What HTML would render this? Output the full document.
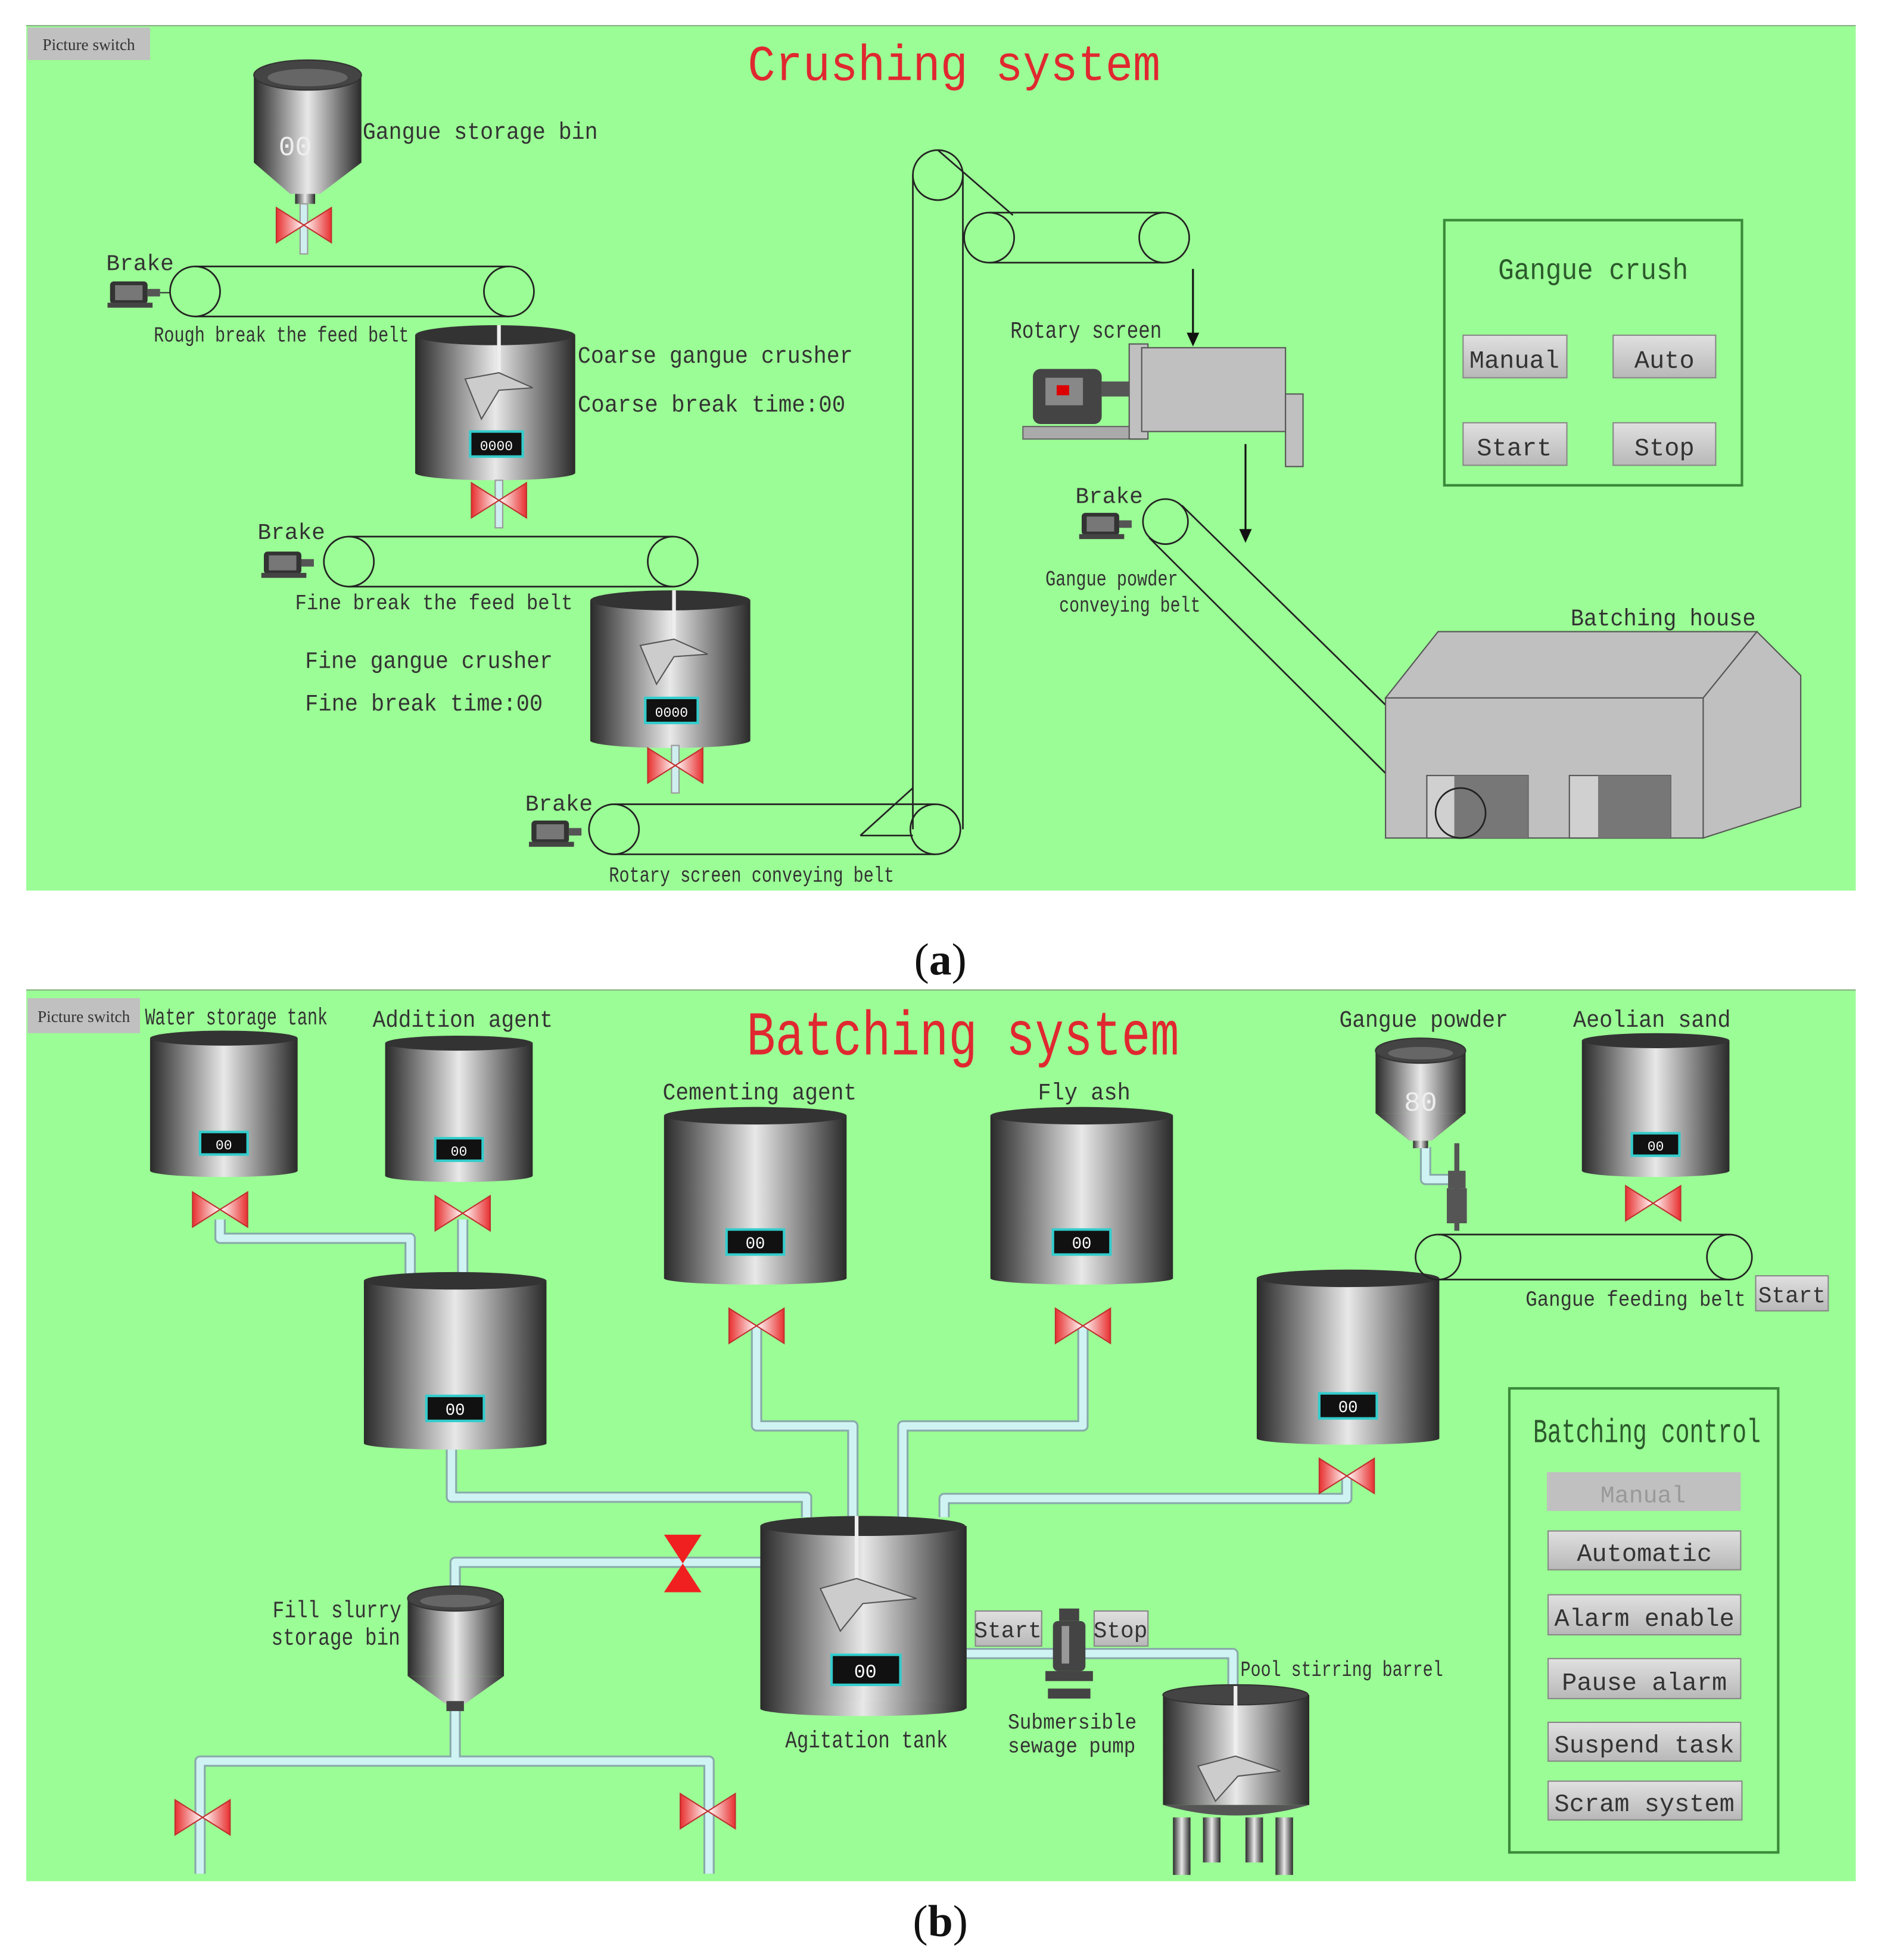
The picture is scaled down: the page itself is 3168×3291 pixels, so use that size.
<!DOCTYPE html>
<html><head><meta charset="utf-8"><style>html,body{margin:0;padding:0;background:#fff}svg{display:block}</style></head><body>
<svg width="3168" height="3291" viewBox="0 0 1509 1567" preserveAspectRatio="none" xmlns="http://www.w3.org/2000/svg" font-family="Liberation Mono, monospace">
<defs>
<linearGradient id="tg" x1="0" x2="1" y1="0" y2="0"><stop offset="0" stop-color="#2a2a2a"/><stop offset="0.5" stop-color="#e8e8e8"/><stop offset="1" stop-color="#2a2a2a"/></linearGradient>
<linearGradient id="tt" x1="0" x2="1"><stop offset="0" stop-color="#555"/><stop offset="0.5" stop-color="#222"/><stop offset="1" stop-color="#666"/></linearGradient>
<linearGradient id="btn" x1="0" x2="0" y1="0" y2="1"><stop offset="0" stop-color="#e0e0e0"/><stop offset="1" stop-color="#b8b8b8"/></linearGradient>
<linearGradient id="vl" x1="0" x2="1"><stop offset="0" stop-color="#e83030"/><stop offset="1" stop-color="#fff"/></linearGradient>
<linearGradient id="vr" x1="1" x2="0"><stop offset="0" stop-color="#e83030"/><stop offset="1" stop-color="#fff"/></linearGradient>
<g id="valve"><polygon points="-22,-14 0,0 -22,14" fill="url(#vl)" stroke="#c03030"/><polygon points="22,-14 0,0 22,14" fill="url(#vr)" stroke="#c03030"/></g>
<g id="motor"><rect x="-20" y="-9" width="30" height="18" fill="#333" rx="3"/><rect x="-16" y="-6" width="22" height="12" fill="#777"/><rect x="10" y="-3" width="10" height="6" fill="#555"/><rect x="-22" y="8" width="36" height="4" fill="#444"/></g>
</defs>
<rect x="0" y="0" width="1509" height="1567" fill="#fff"/>
<rect x="21" y="20" width="1463" height="692" fill="#9bfd95"/>
<rect x="21" y="791" width="1463" height="713" fill="#9bfd95"/>
<line x1="21" y1="20.5" x2="1484" y2="20.5" stroke="#8ab088"/>
<line x1="21" y1="791.5" x2="1484" y2="791.5" stroke="#8ab088"/>
<!-- ============ PANEL A ============ -->
<rect x="22" y="22" width="98" height="26" fill="#c0c0c0"/>
<text x="71" y="40" font-family="Liberation Serif, serif" font-size="13" text-anchor="middle" fill="#333">Picture switch</text>
<text x="598" y="64" font-size="40" fill="#e02830" textLength="330" lengthAdjust="spacingAndGlyphs">Crushing system</text>
<ellipse cx="246" cy="60" rx="43" ry="12" fill="url(#tt)"/>
<rect x="203" y="60" width="86" height="70" fill="url(#tg)"/>
<ellipse cx="246" cy="60" rx="43" ry="12" fill="#444" stroke="#333"/>
<ellipse cx="246" cy="62" rx="32" ry="7" fill="#666"/>
<polygon points="203,130 289,130 256,155 232,155" fill="url(#tg)"/>
<rect x="236" y="155" width="16" height="8" fill="url(#tg)"/>
<text x="236" y="124" font-size="22" fill="#eee" text-anchor="middle">00</text>
<rect x="240" y="163" width="6" height="40" fill="#cfeef0" stroke="#999"/>
<use href="#valve" x="243" y="180"/>
<text x="290" y="111" font-size="19" fill="#333" textLength="188" lengthAdjust="spacingAndGlyphs">Gangue storage bin</text>
<text x="85" y="216" font-size="18" fill="#333">Brake</text>
<use href="#motor" x="108" y="234"/>
<line x1="128" y1="234" x2="136" y2="234" stroke="#333"/>
<g fill="none" stroke="#222" stroke-width="1.3"><circle cx="156" cy="233" r="20"/><circle cx="407" cy="233" r="20"/><line x1="156" y1="213" x2="407" y2="213"/><line x1="156" y1="253" x2="407" y2="253"/></g>
<text x="123" y="273" font-size="17" fill="#333" textLength="204" lengthAdjust="spacingAndGlyphs">Rough break the feed belt</text>
<rect x="332" y="268" width="128" height="110" fill="url(#tg)"/>
<ellipse cx="396" cy="268" rx="64" ry="8" fill="#333"/>
<ellipse cx="396" cy="378" rx="64" ry="6" fill="url(#tg)"/>
<line x1="399" y1="260" x2="399" y2="305" stroke="#eee" stroke-width="3"/>
<polygon points="372,303 399,298 426,310 399,312 385,335" fill="#ccc" stroke="#555"/>
<rect x="376" y="345" width="42" height="20" fill="#111" stroke="#3cc" stroke-width="2"/>
<text x="397" y="360" font-size="11" fill="#fff" text-anchor="middle">0000</text>
<rect x="396" y="384" width="6" height="38" fill="#cfeef0" stroke="#999"/>
<use href="#valve" x="399" y="400"/>
<text x="462" y="290" font-size="19" fill="#333" textLength="220" lengthAdjust="spacingAndGlyphs">Coarse gangue crusher</text>
<text x="462" y="329" font-size="19" fill="#333" textLength="214" lengthAdjust="spacingAndGlyphs">Coarse break time:00</text>
<text x="206" y="431" font-size="18" fill="#333">Brake</text>
<use href="#motor" x="231" y="450"/>
<g fill="none" stroke="#222" stroke-width="1.3"><circle cx="279" cy="449" r="20"/><circle cx="538" cy="449" r="20"/><line x1="279" y1="429" x2="538" y2="429"/><line x1="279" y1="469" x2="538" y2="469"/></g>
<text x="236" y="487" font-size="17" fill="#333" textLength="222" lengthAdjust="spacingAndGlyphs">Fine break the feed belt</text>
<rect x="472" y="480" width="128" height="112" fill="url(#tg)"/>
<ellipse cx="536" cy="480" rx="64" ry="8" fill="#333"/>
<ellipse cx="536" cy="592" rx="64" ry="6" fill="url(#tg)"/>
<line x1="539" y1="472" x2="539" y2="518" stroke="#eee" stroke-width="3"/>
<polygon points="512,516 539,511 566,523 539,525 525,547" fill="#ccc" stroke="#555"/>
<rect x="516" y="558" width="42" height="20" fill="#111" stroke="#3cc" stroke-width="2"/>
<text x="537" y="573" font-size="11" fill="#fff" text-anchor="middle">0000</text>
<rect x="537" y="596" width="6" height="38" fill="#cfeef0" stroke="#999"/>
<use href="#valve" x="540" y="612"/>
<text x="244" y="534" font-size="19" fill="#333" textLength="198" lengthAdjust="spacingAndGlyphs">Fine gangue crusher</text>
<text x="244" y="568" font-size="19" fill="#333" textLength="190" lengthAdjust="spacingAndGlyphs">Fine break time:00</text>
<text x="420" y="648" font-size="18" fill="#333">Brake</text>
<use href="#motor" x="445" y="665"/>
<g fill="none" stroke="#222" stroke-width="1.3">
<circle cx="491" cy="663" r="20"/><circle cx="748" cy="663" r="20"/><line x1="491" y1="643" x2="748" y2="643"/><line x1="491" y1="683" x2="748" y2="683"/>
<line x1="688" y1="668" x2="730" y2="630"/><line x1="688" y1="668" x2="730" y2="668"/>
<circle cx="750" cy="140" r="20"/><line x1="730" y1="140" x2="730" y2="663"/><line x1="770" y1="140" x2="770" y2="663"/>
<line x1="750" y1="120" x2="810" y2="172"/>
<circle cx="791" cy="190" r="20"/><circle cx="931" cy="190" r="20"/><line x1="791" y1="170" x2="931" y2="170"/><line x1="791" y1="210" x2="931" y2="210"/>
</g>
<text x="487" y="705" font-size="17" fill="#333" textLength="228" lengthAdjust="spacingAndGlyphs">Rotary screen conveying belt</text>
<text x="808" y="270" font-size="19" fill="#333" textLength="121" lengthAdjust="spacingAndGlyphs">Rotary screen</text>
<line x1="954" y1="215" x2="954" y2="268" stroke="#111" stroke-width="1.5"/><polygon points="949,266 959,266 954,277" fill="#111"/>
<rect x="818" y="341" width="95" height="10" fill="#aaa" stroke="#666"/>
<rect x="826" y="295" width="55" height="44" rx="6" fill="#444"/>
<rect x="836" y="302" width="30" height="22" fill="#888"/><rect x="845" y="308" width="10" height="8" fill="#d00"/>
<rect x="881" y="305" width="22" height="12" fill="#555"/>
<rect x="903" y="275" width="15" height="76" fill="#c0c0c0" stroke="#555"/>
<rect x="913" y="278" width="115" height="67" fill="#c0c0c0" stroke="#555"/>
<rect x="1028" y="315" width="14" height="58" fill="#c0c0c0" stroke="#555"/>
<line x1="996" y1="355" x2="996" y2="425" stroke="#111" stroke-width="1.5"/><polygon points="991,423 1001,423 996,434" fill="#111"/>
<text x="860" y="402" font-size="18" fill="#333">Brake</text>
<use href="#motor" x="885" y="419"/>
<g fill="none" stroke="#222" stroke-width="1.3"><circle cx="932" cy="417" r="18"/><circle cx="1168" cy="650" r="20"/><line x1="945" y1="404" x2="1182" y2="636"/><line x1="919" y1="430" x2="1154" y2="664"/></g>
<text x="836" y="468" font-size="17" fill="#333" textLength="106" lengthAdjust="spacingAndGlyphs">Gangue powder</text>
<text x="847" y="489" font-size="17" fill="#333" textLength="113" lengthAdjust="spacingAndGlyphs">conveying belt</text>
<text x="1256" y="500" font-size="19" fill="#333" textLength="148" lengthAdjust="spacingAndGlyphs">Batching house</text>
<polygon points="1108,558 1150,505 1405,505 1362,558" fill="#c0c0c0" stroke="#555"/>
<polygon points="1362,558 1405,505 1440,540 1440,645 1362,670" fill="#c0c0c0" stroke="#555"/>
<rect x="1108" y="558" width="254" height="112" fill="#c0c0c0" stroke="#555"/>
<rect x="1141" y="620" width="81" height="50" fill="#d0d0d0" stroke="#555"/><rect x="1163" y="620" width="59" height="50" fill="#777"/>
<rect x="1255" y="620" width="81" height="50" fill="#d0d0d0" stroke="#555"/><rect x="1278" y="620" width="58" height="50" fill="#777"/>
<circle cx="1168" cy="650" r="20" fill="none" stroke="#222" stroke-width="1.3"/>
<rect x="1155" y="176" width="238" height="212" fill="none" stroke="#3a8a3a" stroke-width="2"/>
<text x="1198" y="223" font-size="24" fill="#2c5a2c" textLength="152" lengthAdjust="spacingAndGlyphs">Gangue crush</text>
<g font-size="20" fill="#333" text-anchor="middle">
<rect x="1170" y="268" width="83" height="34" fill="url(#btn)" stroke="#888"/><text x="1211" y="294">Manual</text>
<rect x="1290" y="268" width="82" height="34" fill="url(#btn)" stroke="#888"/><text x="1331" y="294">Auto</text>
<rect x="1170" y="338" width="83" height="34" fill="url(#btn)" stroke="#888"/><text x="1211" y="364">Start</text>
<rect x="1290" y="338" width="82" height="34" fill="url(#btn)" stroke="#888"/><text x="1331" y="364">Stop</text>
</g>
<text x="752" y="779" font-family="Liberation Serif, serif" font-size="36" text-anchor="middle" fill="#111">(<tspan font-weight="bold">a</tspan>)</text>
<!-- ============ PANEL B ============ -->
<g fill="none" stroke-linejoin="round">
<g stroke="#8aa" stroke-width="9">
<path d="M176,975 V990 H328 V1020"/><path d="M370,975 V1020"/><path d="M361,1155 V1197 H645 V1213"/>
<path d="M605,1060 V1140 H682 V1213"/><path d="M866,1060 V1140 H722 V1213"/><path d="M1077,1180 V1198 H755 V1213"/>
<path d="M608,1249 H364 V1268"/><path d="M364,1368 V1408 H160 V1498"/><path d="M364,1408 H567 V1498"/>
<path d="M773,1322 H986 V1348"/><path d="M1140,917 V943 H1160"/>
</g>
<g stroke="#cff3f3" stroke-width="6">
<path d="M176,975 V990 H328 V1020"/><path d="M370,975 V1020"/><path d="M361,1155 V1197 H645 V1213"/>
<path d="M605,1060 V1140 H682 V1213"/><path d="M866,1060 V1140 H722 V1213"/><path d="M1077,1180 V1198 H755 V1213"/>
<path d="M608,1249 H364 V1268"/><path d="M364,1368 V1408 H160 V1498"/><path d="M364,1408 H567 V1498"/>
<path d="M773,1322 H986 V1348"/><path d="M1140,917 V943 H1160"/>
</g>
</g>
<rect x="22" y="798" width="90" height="28" fill="#c0c0c0"/>
<text x="67" y="817" font-family="Liberation Serif, serif" font-size="13" text-anchor="middle" fill="#333">Picture switch</text>
<text x="597" y="843" font-size="50" fill="#e02830" textLength="346" lengthAdjust="spacingAndGlyphs">Batching system</text>
<g font-size="19" fill="#333">
<text x="116" y="819" textLength="146" lengthAdjust="spacingAndGlyphs">Water storage tank</text>
<text x="298" y="821" textLength="144" lengthAdjust="spacingAndGlyphs">Addition agent</text>
<text x="530" y="879" textLength="155" lengthAdjust="spacingAndGlyphs">Cementing agent</text>
<text x="830" y="879" textLength="74" lengthAdjust="spacingAndGlyphs">Fly ash</text>
<text x="1071" y="821" textLength="135" lengthAdjust="spacingAndGlyphs">Gangue powder</text>
<text x="1258" y="821" textLength="126" lengthAdjust="spacingAndGlyphs">Aeolian sand</text>
<text x="1220" y="1044" font-size="17" textLength="176" lengthAdjust="spacingAndGlyphs">Gangue feeding belt</text>
<text x="218" y="1293" textLength="103" lengthAdjust="spacingAndGlyphs">Fill slurry</text>
<text x="217" y="1315" textLength="103" lengthAdjust="spacingAndGlyphs">storage bin</text>
<text x="628" y="1397" textLength="130" lengthAdjust="spacingAndGlyphs">Agitation tank</text>
<text x="806" y="1382" font-size="17" textLength="103" lengthAdjust="spacingAndGlyphs">Submersible</text>
<text x="806" y="1401" font-size="17" textLength="102" lengthAdjust="spacingAndGlyphs">sewage pump</text>
<text x="992" y="1340" font-size="17" textLength="162" lengthAdjust="spacingAndGlyphs">Pool stirring barrel</text>
</g>
<g>
<rect x="120" y="830" width="118" height="106" fill="url(#tg)"/><ellipse cx="179" cy="830" rx="59" ry="6" fill="#333"/><ellipse cx="179" cy="936" rx="59" ry="5" fill="url(#tg)"/>
<rect x="160" y="905" width="38" height="18" fill="#111" stroke="#3cc" stroke-width="2"/><text x="179" y="919" font-size="11" fill="#fff" text-anchor="middle">00</text>
<rect x="308" y="834" width="118" height="106" fill="url(#tg)"/><ellipse cx="367" cy="834" rx="59" ry="6" fill="#333"/><ellipse cx="367" cy="940" rx="59" ry="5" fill="url(#tg)"/>
<rect x="348" y="910" width="38" height="18" fill="#111" stroke="#3cc" stroke-width="2"/><text x="367" y="924" font-size="11" fill="#fff" text-anchor="middle">00</text>
<rect x="291" y="1024" width="146" height="130" fill="url(#tg)"/><ellipse cx="364" cy="1024" rx="73" ry="7" fill="#333"/><ellipse cx="364" cy="1154" rx="73" ry="5" fill="url(#tg)"/>
<rect x="341" y="1116" width="46" height="20" fill="#111" stroke="#3cc" stroke-width="2"/><text x="364" y="1131" font-size="13" fill="#fff" text-anchor="middle">00</text>
<rect x="531" y="892" width="146" height="130" fill="url(#tg)"/><ellipse cx="604" cy="892" rx="73" ry="7" fill="#333"/><ellipse cx="604" cy="1022" rx="73" ry="5" fill="url(#tg)"/>
<rect x="581" y="983" width="46" height="20" fill="#111" stroke="#3cc" stroke-width="2"/><text x="604" y="998" font-size="13" fill="#fff" text-anchor="middle">00</text>
<rect x="792" y="892" width="146" height="130" fill="url(#tg)"/><ellipse cx="865" cy="892" rx="73" ry="7" fill="#333"/><ellipse cx="865" cy="1022" rx="73" ry="5" fill="url(#tg)"/>
<rect x="842" y="983" width="46" height="20" fill="#111" stroke="#3cc" stroke-width="2"/><text x="865" y="998" font-size="13" fill="#fff" text-anchor="middle">00</text>
<rect x="1265" y="832" width="118" height="104" fill="url(#tg)"/><ellipse cx="1324" cy="832" rx="59" ry="6" fill="#333"/><ellipse cx="1324" cy="936" rx="59" ry="5" fill="url(#tg)"/>
<rect x="1305" y="906" width="38" height="18" fill="#111" stroke="#3cc" stroke-width="2"/><text x="1324" y="920" font-size="11" fill="#fff" text-anchor="middle">00</text>
<rect x="1005" y="1022" width="146" height="128" fill="url(#tg)"/><ellipse cx="1078" cy="1022" rx="73" ry="7" fill="#333"/><ellipse cx="1078" cy="1150" rx="73" ry="5" fill="url(#tg)"/>
<rect x="1055" y="1114" width="46" height="20" fill="#111" stroke="#3cc" stroke-width="2"/><text x="1078" y="1129" font-size="13" fill="#fff" text-anchor="middle">00</text>
</g>
<rect x="1100" y="840" width="72" height="50" fill="url(#tg)"/><ellipse cx="1136" cy="840" rx="36" ry="10" fill="#444" stroke="#333"/><ellipse cx="1136" cy="842" rx="26" ry="5" fill="#666"/>
<polygon points="1100,890 1172,890 1145,912 1127,912" fill="url(#tg)"/><rect x="1130" y="912" width="12" height="6" fill="url(#tg)"/>
<text x="1136" y="888" font-size="22" fill="#eee" text-anchor="middle">80</text>
<g fill="#555"><rect x="1158" y="936" width="14" height="14"/><rect x="1163" y="914" width="4" height="70"/><rect x="1157" y="950" width="16" height="28"/></g>
<g fill="none" stroke="#222" stroke-width="1.3"><circle cx="1150" cy="1005" r="18"/><circle cx="1383" cy="1005" r="18"/><line x1="1150" y1="987" x2="1383" y2="987"/><line x1="1150" y1="1023" x2="1383" y2="1023"/></g>
<rect x="1404" y="1020" width="58" height="28" fill="url(#btn)" stroke="#888"/><text x="1433" y="1041" font-size="18" fill="#333" text-anchor="middle">Start</text>
<use href="#valve" x="176" y="967"/><use href="#valve" x="370" y="970"/><use href="#valve" x="605" y="1060"/><use href="#valve" x="866" y="1060"/>
<use href="#valve" x="1322" y="962"/><use href="#valve" x="1077" y="1180"/><use href="#valve" x="162" y="1453"/><use href="#valve" x="566" y="1448"/>
<polygon points="531,1227 561,1227 546,1250" fill="#f02020"/><polygon points="531,1273 561,1273 546,1250" fill="#f02020"/>
<rect x="326" y="1278" width="77" height="62" fill="url(#tg)"/><ellipse cx="364" cy="1278" rx="38" ry="10" fill="#444" stroke="#333"/><ellipse cx="364" cy="1280" rx="28" ry="5" fill="#666"/>
<polygon points="326,1340 403,1340 372,1362 356,1362" fill="url(#tg)"/><rect x="357" y="1360" width="14" height="8" fill="#444"/>
<rect x="608" y="1220" width="165" height="146" fill="url(#tg)"/><ellipse cx="690" cy="1220" rx="82" ry="8" fill="#333"/><ellipse cx="690" cy="1366" rx="82" ry="6" fill="url(#tg)"/>
<line x1="685" y1="1212" x2="685" y2="1270" stroke="#eee" stroke-width="3"/>
<polygon points="656,1270 685,1262 733,1278 690,1282 672,1304" fill="#ccc" stroke="#555"/>
<rect x="665" y="1323" width="55" height="24" fill="#111" stroke="#3cc" stroke-width="2"/><text x="692" y="1341" font-size="15" fill="#fff" text-anchor="middle">00</text>
<rect x="780" y="1288" width="53" height="28" fill="url(#btn)" stroke="#888"/><text x="806" y="1309" font-size="18" fill="#333" text-anchor="middle">Start</text>
<rect x="875" y="1288" width="43" height="28" fill="url(#btn)" stroke="#888"/><text x="896" y="1309" font-size="18" fill="#333" text-anchor="middle">Stop</text>
<g fill="#444"><rect x="847" y="1286" width="16" height="10"/><rect x="842" y="1296" width="26" height="40" rx="4"/><rect x="836" y="1336" width="38" height="8"/><rect x="838" y="1350" width="34" height="8"/></g>
<rect x="849" y="1300" width="6" height="30" fill="#999"/>
<rect x="930" y="1355" width="117" height="88" fill="url(#tg)"/><ellipse cx="988" cy="1355" rx="58" ry="8" fill="#444" stroke="#333"/>
<path d="M930,1443 Q988,1460 1047,1443" fill="#555"/>
<line x1="988" y1="1348" x2="988" y2="1410" stroke="#eee" stroke-width="3"/>
<polygon points="958,1412 988,1404 1024,1416 990,1420 972,1440" fill="#ccc" stroke="#555"/>
<g fill="url(#tg)"><rect x="938" y="1453" width="14" height="46"/><rect x="962" y="1453" width="14" height="36"/><rect x="996" y="1453" width="14" height="36"/><rect x="1020" y="1453" width="14" height="46"/></g>
<rect x="1207" y="1110" width="215" height="371" fill="none" stroke="#3a8a3a" stroke-width="2"/>
<text x="1226" y="1153" font-size="27" fill="#2c5a2c" textLength="182" lengthAdjust="spacingAndGlyphs">Batching control</text>
<rect x="1237" y="1177" width="155" height="31" fill="#c0c0c0"/><text x="1314" y="1201" font-size="19" fill="#999" text-anchor="middle">Manual</text>
<g font-size="20" fill="#333" text-anchor="middle">
<rect x="1238" y="1224" width="154" height="31" fill="url(#btn)" stroke="#888"/><text x="1315" y="1248">Automatic</text>
<rect x="1238" y="1275" width="154" height="32" fill="url(#btn)" stroke="#888"/><text x="1315" y="1300">Alarm enable</text>
<rect x="1238" y="1326" width="154" height="32" fill="url(#btn)" stroke="#888"/><text x="1315" y="1351">Pause alarm</text>
<rect x="1238" y="1377" width="154" height="31" fill="url(#btn)" stroke="#888"/><text x="1315" y="1401">Suspend task</text>
<rect x="1238" y="1424" width="155" height="31" fill="url(#btn)" stroke="#888"/><text x="1315" y="1448">Scram system</text>
</g>
<text x="752" y="1548" font-family="Liberation Serif, serif" font-size="36" text-anchor="middle" fill="#111">(<tspan font-weight="bold">b</tspan>)</text>
</svg>
</body></html>
